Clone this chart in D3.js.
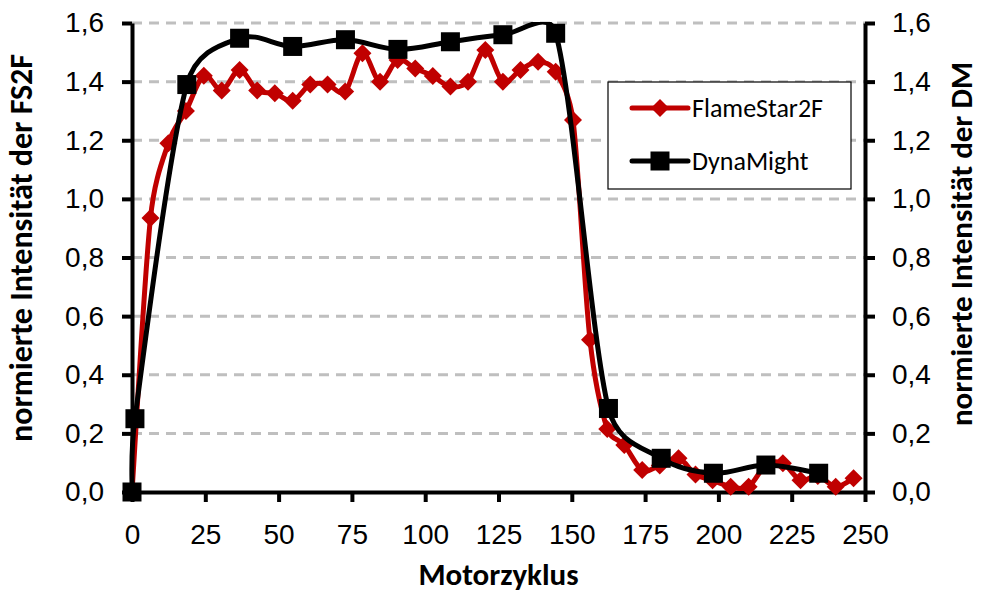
<!DOCTYPE html>
<html>
<head>
<meta charset="utf-8">
<script src="https://cdn.jsdelivr.net/npm/d3@7"></script>
<style>
  body { margin: 0; background: #fff; }
  svg { display: block; font-family: Carlito, Calibri, Lato, sans-serif; }
</style>
</head>
<body>
<div id="chart"></div>
<script>
// FlameStar2F (red diamonds)
const fsCycle = [0, 6.3, 12.4, 18.4, 24.5, 30.6, 36.7, 42.7, 48.7, 54.8, 60.8, 66.7, 72.7, 78.6, 84.6, 90.6,
  96.6, 102.6, 108.6, 114.6, 120.5, 126.5, 132.5, 138.5, 144.5, 150.4, 156.2, 162.1, 167.9, 174, 180, 186.4,
  192.2, 198, 204.2, 210.3, 216.2, 222, 228, 233.9, 240, 246.1];
const fsValue = [0, 0.935, 1.19, 1.30, 1.42, 1.37, 1.44, 1.37, 1.36, 1.335, 1.39, 1.39, 1.366, 1.497, 1.40, 1.474,
  1.445, 1.419, 1.383, 1.40, 1.508, 1.40, 1.44, 1.468, 1.434, 1.269, 0.519, 0.215, 0.16, 0.075, 0.09, 0.115,
  0.06, 0.04, 0.018, 0.018, 0.092, 0.098, 0.04, 0.055, 0.018, 0.047];

// DynaMight (black squares)
const dmCycle = [0, 1, 18.7, 36.7, 54.8, 72.8, 90.7, 108.6, 126.5, 144.5, 162.5, 180.5, 198.3, 216.2, 234.2];
const dmValue = [0, 0.25, 1.39, 1.548, 1.52, 1.543, 1.51, 1.536, 1.56, 1.565, 0.285, 0.115, 0.064, 0.092, 0.064];

const xTicks = [0, 25, 50, 75, 100, 125, 150, 175, 200, 225, 250];
const yTicks = [0, 0.2, 0.4, 0.6, 0.8, 1.0, 1.2, 1.4, 1.6];
const seriesNames = ["FlameStar2F", "DynaMight"];

const W = 982, H = 594;
const margin = {top: 23, right: 117, bottom: 102, left: 132};
const width = W - margin.left - margin.right,
    height = H - margin.top - margin.bottom;

const fmt = d => d3.format(".1f")(d).replace(".", ",");

// smoothed line like a spreadsheet "smoothed line": bezier arms of 1/6 of the
// neighbour chord, but never longer than half of the segment
function smoothPath(pts) {
    const p = d3.path();
    const n = pts.length;
    p.moveTo(pts[0][0], pts[0][1]);
    const dist = (a, b) => Math.hypot(b[0] - a[0], b[1] - a[1]);
    for (let i = 0; i < n - 1; i++) {
        const p0 = pts[Math.max(i - 1, 0)], p1 = pts[i], p2 = pts[i + 1], p3 = pts[Math.min(i + 2, n - 1)];
        const seg = dist(p1, p2);
        let a = [(p2[0] - p0[0]) / 6, (p2[1] - p0[1]) / 6];
        let b = [(p3[0] - p1[0]) / 6, (p3[1] - p1[1]) / 6];
        const la = Math.hypot(a[0], a[1]), lb = Math.hypot(b[0], b[1]);
        if (la > seg / 2) a = a.map(v => v * seg / 2 / la);
        if (lb > seg / 2) b = b.map(v => v * seg / 2 / lb);
        p.bezierCurveTo(p1[0] + a[0], p1[1] + a[1], p2[0] - b[0], p2[1] - b[1], p2[0], p2[1]);
    }
    return p.toString();
}

const svg = d3.select("#chart")
    .append("svg")
    .attr("width", W)
    .attr("height", H);

const g = svg.append("g")
    .attr("transform", `translate(${margin.left}, ${margin.top})`);

const x = d3.scaleLinear().domain([0, 250]).range([0, width]);
const y = d3.scaleLinear().domain([0, 1.6]).range([height, 0]);

// dashed grid lines
g.append("g")
    .selectAll("line")
    .data(yTicks.filter(d => d > 0))
    .enter()
    .append("line")
    .attr("x1", 0)
    .attr("x2", width)
    .attr("y1", d => y(d))
    .attr("y2", d => y(d))
    .attr("stroke", "#bfbfbf")
    .attr("stroke-width", 3)
    .attr("stroke-dasharray", "10,7");

// lines are clipped at the top of the plot like the original
g.append("clipPath")
    .attr("id", "plotClip")
    .append("rect")
    .attr("x", -5)
    .attr("y", -1)
    .attr("width", width + 10)
    .attr("height", height + 6);

// axes
const axisStyle = sel => {
    sel.select(".domain").attr("stroke", "#000").attr("stroke-width", 4);
    sel.selectAll(".tick line").attr("stroke", "#000").attr("stroke-width", 4);
    sel.selectAll(".tick text").attr("fill", "#000").attr("font-size", "28px");
};

g.append("g")
    .attr("transform", `translate(0, ${height})`)
    .call(d3.axisBottom(x).tickValues(xTicks).tickSize(10).tickSizeOuter(0).tickPadding(22))
    .call(axisStyle);

g.append("g")
    .call(d3.axisLeft(y).tickValues(yTicks).tickFormat(fmt).tickSize(10).tickSizeOuter(0).tickPadding(18))
    .call(axisStyle);

g.append("g")
    .attr("transform", `translate(${width}, 0)`)
    .call(d3.axisRight(y).tickValues(yTicks).tickFormat(fmt).tickSize(10).tickSizeOuter(0).tickPadding(17))
    .call(axisStyle);

// series
const red = "#c00000";
const fsData = fsCycle.map((c, i) => ({c: c, v: fsValue[i]}));
const dmData = dmCycle.map((c, i) => ({c: c, v: dmValue[i]}));
const toPts = data => data.map(d => [x(d.c), y(d.v)]);

g.append("path")
    .attr("clip-path", "url(#plotClip)")
    .attr("fill", "none")
    .attr("stroke", red)
    .attr("stroke-width", 5)
    .attr("stroke-linejoin", "round")
    .attr("d", smoothPath(toPts(fsData)));

g.append("g")
    .selectAll("path")
    .data(fsData)
    .enter()
    .append("path")
    .attr("transform", d => `translate(${x(d.c)}, ${y(d.v)})`)
    .attr("d", "M0,-9L9,0L0,9L-9,0Z")
    .attr("fill", red);

g.append("path")
    .attr("clip-path", "url(#plotClip)")
    .attr("fill", "none")
    .attr("stroke", "#000")
    .attr("stroke-width", 5)
    .attr("stroke-linejoin", "round")
    .attr("d", smoothPath(toPts(dmData)));

g.append("g")
    .selectAll("rect")
    .data(dmData)
    .enter()
    .append("rect")
    .attr("x", d => x(d.c) - 9.5)
    .attr("y", d => y(d.v) - 9.5)
    .attr("width", 19)
    .attr("height", 19)
    .attr("fill", "#000");

// legend
const legend = svg.append("g").attr("transform", "translate(608, 82)");
legend.append("rect")
    .attr("width", 243)
    .attr("height", 107)
    .attr("fill", "#fff")
    .attr("stroke", "#000")
    .attr("stroke-width", 1.2);

const entries = legend.selectAll("g.entry")
    .data(seriesNames)
    .enter()
    .append("g")
    .attr("class", "entry")
    .attr("transform", (d, i) => `translate(24, ${26 + i * 53})`);

entries.append("line")
    .attr("x1", 0)
    .attr("x2", 56)
    .attr("stroke", (d, i) => i === 0 ? red : "#000")
    .attr("stroke-width", 5)
    .attr("stroke-linecap", "round");

entries.filter((d, i) => i === 0)
    .append("path")
    .attr("transform", "translate(28, 0)")
    .attr("d", "M0,-9L9,0L0,9L-9,0Z")
    .attr("fill", red);

entries.filter((d, i) => i === 1)
    .append("rect")
    .attr("x", 18.5)
    .attr("y", -9.5)
    .attr("width", 19)
    .attr("height", 19)
    .attr("fill", "#000");

entries.append("text")
    .attr("x", 60)
    .attr("dy", "0.35em")
    .attr("font-size", "26px")
    .text(d => d);

// axis titles
svg.append("text")
    .attr("x", margin.left + width / 2)
    .attr("y", 585)
    .attr("text-anchor", "middle")
    .attr("font-size", "31px")
    .attr("font-weight", "bold")
    .text("Motorzyklus");

svg.append("text")
    .attr("transform", "translate(32, 248) rotate(-90)")
    .attr("text-anchor", "middle")
    .attr("font-size", "32px")
    .attr("font-weight", "bold")
    .text("normierte Intensität der FS2F");

svg.append("text")
    .attr("transform", "translate(972, 244) rotate(-90)")
    .attr("text-anchor", "middle")
    .attr("font-size", "31px")
    .attr("font-weight", "bold")
    .text("normierte Intensität der DM");
</script>
</body>
</html>
